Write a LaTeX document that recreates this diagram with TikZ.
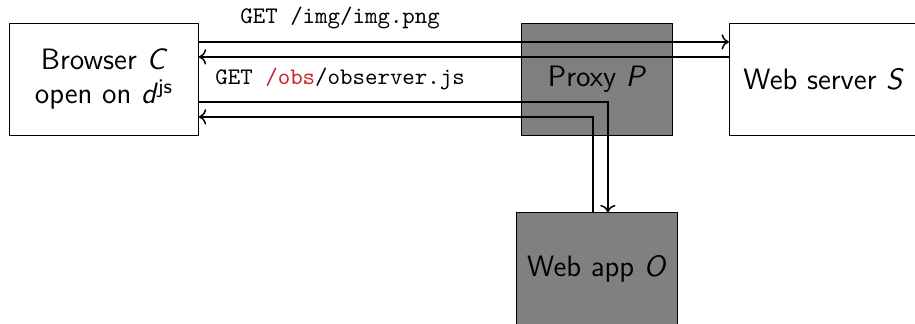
\documentclass[tikz,border=0pt]{standalone}
\usepackage{xcolor}
\usepackage{tikz}
\usetikzlibrary{
  arrows.meta,
  calc,
  positioning
}
\definecolor{obsred}{RGB}{200,35,40}

\begin{document}
\begin{tikzpicture}[
  party/.style={draw, line width=0.4pt, minimum height=45.1pt,
                minimum width=75.4pt, align=center,
                font=\sffamily\fontsize{11.8}{13.6}\selectfont},
  shady/.style={party, fill=gray},
  msg/.style={inner sep=0pt, font=\ttfamily\fontsize{9.5}{11}\selectfont},
  arr/.style={->, semithick}
]
  \useasboundingbox (-41.65pt,31.75pt) rectangle (324.35pt,-97.45pt);

  \node[party] (browser) {Browser \textit{C}\\open on \textit{d}\textsuperscript{js}};
  \node[shady, minimum width=60.6pt, right=128.8pt of browser] (proxy) {Proxy \textit{P}};
  \node[party, right=22.2pt of proxy] (server) {Web server \textit{S}};
  \node[shady, minimum width=64.4pt, below=30.4pt of proxy] (webapp) {Web app \textit{O}};

  % requests and answers
  \node[msg] (getimg) at ([xshift=94.4pt,yshift=24.6pt]browser.center) {GET /img/img.png};
  \node[msg] (getobs) at ([xshift=94.4pt]browser.center) {GET \textcolor{obsred}{/obs}/observer.js};

  \draw[arr] ([yshift=15pt]browser.east) -- ([yshift=15pt]server.west);
  \draw[arr] ([yshift=9pt]server.west) -- ([yshift=9pt]browser.east);
  \draw[arr] ([yshift=-9pt]browser.east) -| ([xshift=4.3pt]webapp.north);
  \draw[arr] ([xshift=-1.6pt]webapp.north) |- ([yshift=-15pt]browser.east);
\end{tikzpicture}
\end{document}
